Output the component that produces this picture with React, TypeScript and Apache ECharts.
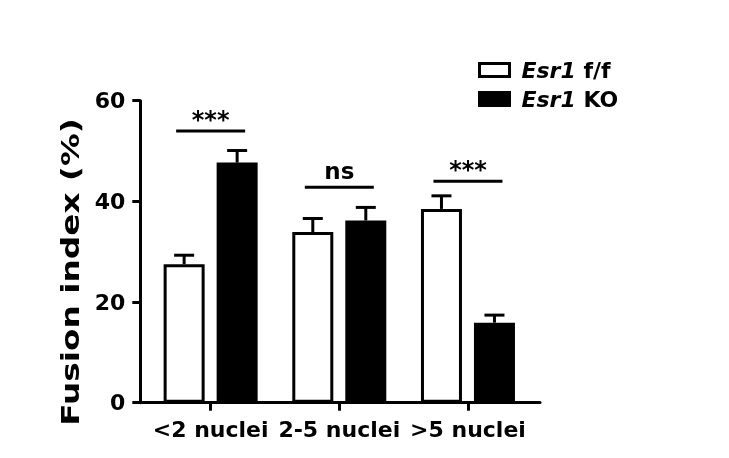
import React, { useEffect, useRef } from 'react';
import * as echarts from 'echarts';

const categories = ['<2 nuclei', '2-5 nuclei', '>5 nuclei'];
const seriesNames = ['Esr1 f/f', 'Esr1 KO'];
const ffMean = [27.5, 33.9, 38.5];
const ffUpper = [29.3, 36.6, 41.1];
const koMean = [47.7, 36.2, 15.9];
const koUpper = [50.1, 38.8, 17.4];
const sigY = [54.0, 42.8, 44.0];
const sigLabels = ['***', 'ns', '***'];

const FONT = '"DejaVu Sans", sans-serif';
const BAR_W = 41;
const BAR_GAP = 12;
const HALF = (BAR_W + BAR_GAP) / 2;

const errorSeries = (mean: number[], upper: number[], offset: number) => ({
    type: 'custom',
    xAxisIndex: 0,
    yAxisIndex: 0,
    z: 1,
    data: mean.map((m, i) => [i, m, upper[i]]),
    renderItem: (params: any, api: any) => {
        const p0 = api.coord([api.value(0), api.value(1)]);
        const p1 = api.coord([api.value(0), api.value(2)]);
        const x = p0[0] + offset;
        const st = { stroke: '#000', lineWidth: 3 };
        return {
            type: 'group',
            children: [
                { type: 'line', shape: { x1: x, y1: p0[1], x2: x, y2: p1[1] }, style: st },
                { type: 'line', shape: { x1: x - 10, y1: p1[1], x2: x + 10, y2: p1[1] }, style: st },
            ],
        };
    },
});

export default function App() {
    const chartRef = useRef(null);

    useEffect(() => {
        const myChart = echarts.init(chartRef.current, null, { renderer: 'svg' });

        myChart.setOption({
            animation: false,
            grid: [
                { left: 146.3, right: 196.7, top: 100.7, bottom: 55.3 },
                { left: 140, right: 189, top: 100.7, bottom: 55.3 },
            ],
            legend: {
                orient: 'vertical',
                left: 478,
                top: 59,
                padding: 0,
                icon: 'rect',
                itemWidth: 30,
                itemHeight: 13,
                itemGap: 7,
                data: [
                    { name: seriesNames[0], itemStyle: { color: '#fff', borderColor: '#000', borderWidth: 3 } },
                    { name: seriesNames[1], itemStyle: { color: '#000', borderColor: '#000', borderWidth: 3 } },
                ],
                formatter: (name: string) => name.replace('Esr1', '{i|Esr1}'),
                textStyle: {
                    fontFamily: FONT,
                    fontWeight: 'bold',
                    fontSize: 22,
                    lineHeight: 22,
                    color: '#000',
                    padding: [0, 0, 0, 7],
                    rich: {
                        i: {
                            fontFamily: FONT,
                            fontWeight: 'bold',
                            fontStyle: 'italic',
                            fontSize: 22,
                            lineHeight: 22,
                            color: '#000',
                        },
                    },
                },
            },
            graphic: [
                {
                    type: 'text',
                    x: 70,
                    y: 272,
                    rotation: Math.PI / 2,
                    scaleX: 1.31,
                    style: {
                        text: 'Fusion index (%)',
                        font: 'bold 25px "DejaVu Sans"',
                        textAlign: 'center',
                        textVerticalAlign: 'middle',
                        fill: '#000',
                    },
                },
            ],
            xAxis: [
                {
                    type: 'category',
                    gridIndex: 0,
                    data: categories,
                    axisLine: { show: false },
                    axisTick: {
                        show: true,
                        interval: 0,
                        alignWithLabel: true,
                        length: 8,
                        lineStyle: { color: '#000', width: 3 },
                    },
                    axisLabel: {
                        interval: 0,
                        hideOverlap: false,
                        color: '#000',
                        fontFamily: FONT,
                        fontWeight: 'bold',
                        fontSize: 22,
                        margin: 16,
                    },
                },
                {
                    type: 'value',
                    gridIndex: 1,
                    min: 0,
                    max: 1,
                    axisLine: { show: true, lineStyle: { color: '#000', width: 3 } },
                    axisTick: { show: false },
                    axisLabel: { show: false },
                    splitLine: { show: false },
                },
            ],
            yAxis: [
                {
                    type: 'value',
                    gridIndex: 0,
                    min: 0,
                    max: 60,
                    interval: 20,
                    offset: 6,
                    axisLine: { show: true, lineStyle: { color: '#000', width: 3 } },
                    axisTick: { show: true, length: 8, lineStyle: { color: '#000', width: 3 } },
                    axisLabel: { color: '#000', fontFamily: FONT, fontWeight: 'bold', fontSize: 22, margin: 15 },
                    splitLine: { show: false },
                },
                { type: 'value', gridIndex: 1, show: false, min: 0, max: 1 },
            ],
            series: [
                {
                    name: seriesNames[0],
                    type: 'bar',
                    xAxisIndex: 0,
                    yAxisIndex: 0,
                    data: ffMean,
                    barWidth: BAR_W,
                    barGap: `${(BAR_GAP / BAR_W) * 100}%`,
                    z: 2,
                    itemStyle: { color: '#fff', borderColor: '#000', borderWidth: 3 },
                },
                {
                    name: seriesNames[1],
                    type: 'bar',
                    xAxisIndex: 0,
                    yAxisIndex: 0,
                    data: koMean,
                    barWidth: BAR_W,
                    barGap: `${(BAR_GAP / BAR_W) * 100}%`,
                    z: 2,
                    itemStyle: { color: '#000', borderColor: '#000', borderWidth: 3 },
                },
                errorSeries(ffMean, ffUpper, -HALF),
                errorSeries(koMean, koUpper, HALF),
                {
                    type: 'custom',
                    xAxisIndex: 0,
                    yAxisIndex: 0,
                    data: sigY.map((y, i) => [i, y, sigLabels[i]]),
                    renderItem: (params: any, api: any) => {
                        const p = api.coord([api.value(0), api.value(1)]);
                        const label = sigLabels[params.dataIndex];
                        const dy = label === 'ns' ? -16 : -11;
                        return {
                            type: 'group',
                            children: [
                                {
                                    type: 'line',
                                    shape: { x1: p[0] - 34.5, y1: p[1], x2: p[0] + 34.5, y2: p[1] },
                                    style: { stroke: '#000', lineWidth: 3 },
                                },
                                {
                                    type: 'text',
                                    x: p[0],
                                    y: p[1] + dy,
                                    style: {
                                        text: label,
                                        font: `bold ${label === 'ns' ? 23 : 24}px "DejaVu Sans"`,
                                        textAlign: 'center',
                                        textVerticalAlign: 'middle',
                                        fill: '#000',
                                    },
                                },
                            ],
                        };
                    },
                },
            ],
        });

        return () => {
            myChart.dispose();
        };
    }, []);

    return <div ref={chartRef} style={{ position: 'fixed', left: 0, top: 0, width: 729, height: 458 }} />;
}
